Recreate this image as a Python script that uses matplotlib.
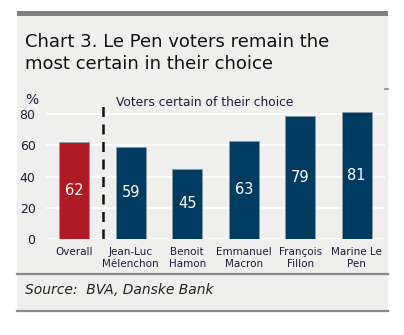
import matplotlib
matplotlib.use("Agg")
import matplotlib.pyplot as plt
from matplotlib.patches import Rectangle
from matplotlib.lines import Line2D

categories = ["Overall", "Jean-Luc\nMélenchon", "Benoit\nHamon", "Emmanuel\nMacron", "François\nFillon", "Marine Le\nPen"]
values = [62, 59, 45, 63, 79, 81]
colors = ["#b01a24", "#003c62", "#003c62", "#003c62", "#003c62", "#003c62"]
yticks = [0, 20, 40, 60, 80]

W, H = 404, 335
fig = plt.figure(figsize=(W / 100, H / 100), dpi=100)
fig.patch.set_facecolor("white")

def px(x, y):
    return x / W, 1 - y / H

# panel background
x0, y0 = px(17, 311)
x1, y1 = px(388, 16)
fig.patches.append(Rectangle((x0, y0), x1 - x0, y1 - y0, transform=fig.transFigure,
                             facecolor="#eff0ee", edgecolor="none", zorder=-2))
# top bar
tx0, ty0 = px(17, 16)
fig.patches.append(Rectangle((tx0, ty0), x1 - x0, 5 / H, transform=fig.transFigure,
                             facecolor="#808080", edgecolor="none", zorder=-1))
# separator lines
for yy in (274, 311):
    a, b = px(17, yy)
    fig.lines.append(Line2D([a, x1], [b, b], transform=fig.transFigure, color="#8a8a8a", lw=1.6))
# small right mark
a, b = px(385, 89)
fig.lines.append(Line2D([a, x1], [b, b], transform=fig.transFigure, color="#8a8a8a", lw=1.2))

tc = "#1c1c3a"
fig.text(25 / W, 1 - 33 / H, "Chart 3. Le Pen voters remain the\nmost certain in their choice",
         ha="left", va="top", fontsize=13, color="#111111", linespacing=1.3, family="DejaVu Sans")
fig.text(25 / W, 1 - 290 / H, "Source:  BVA, Danske Bank", ha="left", va="center",
         fontsize=10, style="italic", color="#222222")

ax = fig.add_axes([46 / W, (H - 239) / H, 339 / W, 132.8 / H])
ax.set_facecolor("none")
ax.set_xlim(-0.5, len(values) - 0.5)
ax.set_ylim(0, 85)
ax.set_yticks(yticks)
for t in yticks:
    ax.axhline(t, color="white", lw=1.2, zorder=1)
bars = ax.bar(range(len(values)), values, width=0.53, color=colors, edgecolor="#8c9aa6",
              linewidth=0.6, zorder=3)
for i, v in enumerate(values):
    ax.text(i, v / 2, str(v), ha="center", va="center", color="white", fontsize=10.5, zorder=4)
ax.axvline(0.5, ymin=0, ymax=1, color="#111111", lw=1.8, ls=(0, (4, 3)), zorder=4)
ax.text(0.5 + 0.24, 87.5, "Voters certain of their choice", ha="left", va="center",
        fontsize=8.8, color=tc, clip_on=False)
ax.text(-0.5 - 21 / 56.5, 89, "%", ha="left", va="center", fontsize=10, color=tc, clip_on=False)

ax.set_xticks(range(len(values)))
ax.set_xticklabels(categories, fontsize=7.5, color=tc, linespacing=1.15)
ax.tick_params(axis="x", length=0, pad=6)
ax.tick_params(axis="y", length=0, pad=7.5, labelsize=9, labelcolor=tc)
for s in ax.spines.values():
    s.set_visible(False)

fig.savefig("out.png", dpi=100, facecolor="white")
